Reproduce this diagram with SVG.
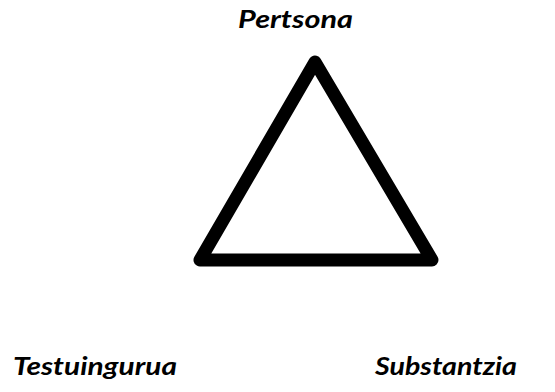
<svg xmlns="http://www.w3.org/2000/svg" width="555" height="392" viewBox="0 0 555 392">
<style>
.lbl{font-family:Lato,"Open Sans","Liberation Sans",sans-serif;font-weight:bold;font-style:italic;font-size:24px;fill:#000}
.tri{fill:none;stroke:#000;stroke-width:13;stroke-linejoin:round}
</style>
<rect width="555" height="392" fill="#fff"/>
<g id="triangle"><polygon class="tri" points="315,62 200,260 432,260"/></g>
<g id="pertsona"><text class="lbl" x="238" y="28" textLength="115" lengthAdjust="spacingAndGlyphs">Pertsona</text></g>
<g id="testuingurua"><text class="lbl" x="13" y="375" textLength="164" lengthAdjust="spacingAndGlyphs">Testuingurua</text></g>
<g id="substantzia"><text class="lbl" x="375" y="375" textLength="142" lengthAdjust="spacingAndGlyphs">Substantzia</text></g>
</svg>
